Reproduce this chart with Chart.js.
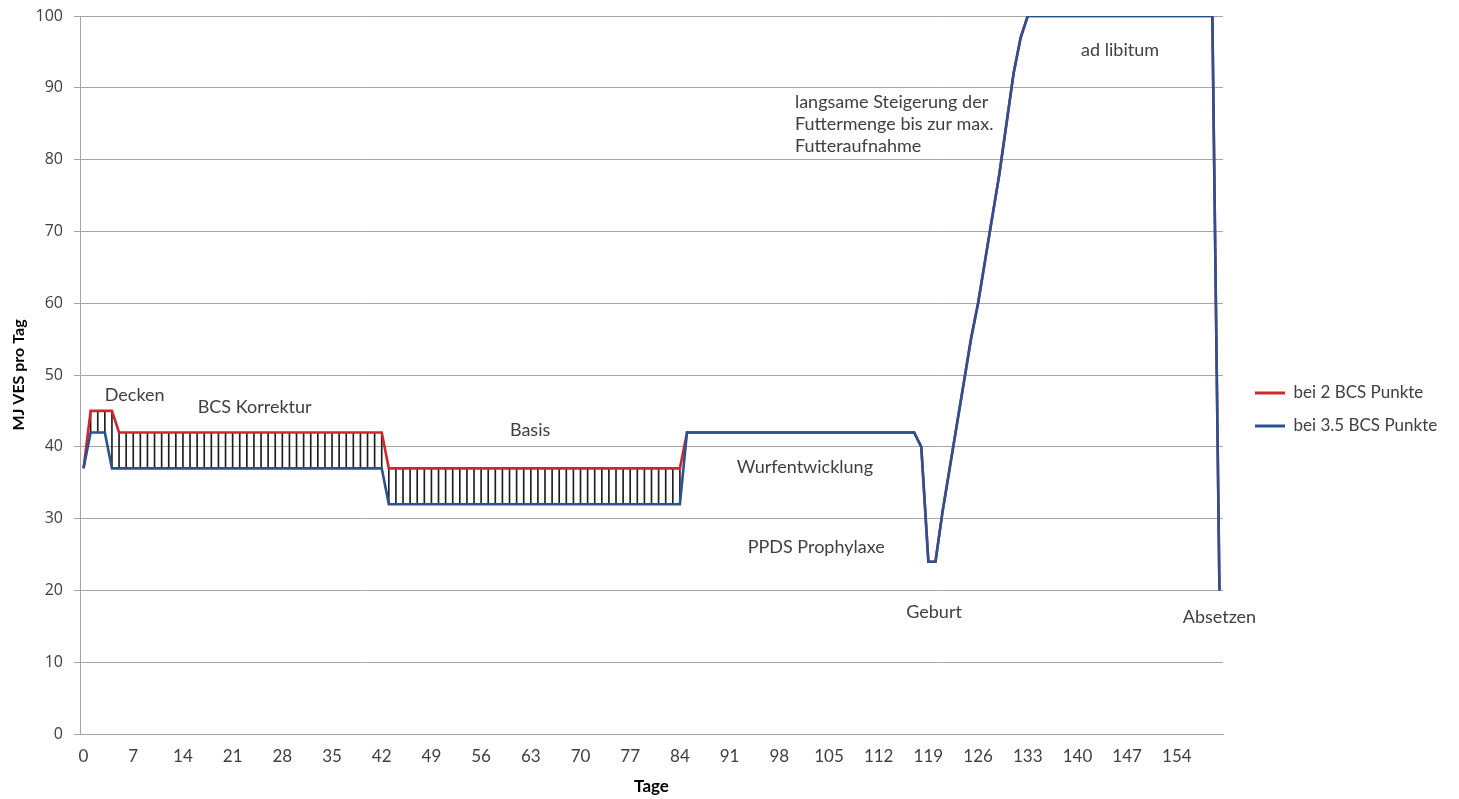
<!DOCTYPE html>
<html>
<head>
<meta charset="utf-8">
<script src="https://cdn.jsdelivr.net/npm/chart.js@4.4.1/dist/chart.umd.min.js"></script>
<style>
html,body{margin:0;padding:0;background:#fff;}
#wrap{width:1459px;height:799px;position:relative;}
</style>
</head>
<body>
<div id="wrap"><canvas id="c" width="1459" height="799"></canvas></div>
<script>
// ---- data ----
const days = [
  0,1,2,3,4,5,6,7,8,9,10,11,12,13,14,15,16,17,18,19,
  20,21,22,23,24,25,26,27,28,29,30,31,32,33,34,35,36,37,38,39,
  40,41,42,43,44,45,46,47,48,49,50,51,52,53,54,55,56,57,58,59,
  60,61,62,63,64,65,66,67,68,69,70,71,72,73,74,75,76,77,78,79,
  80,81,82,83,84,85,86,87,88,89,90,91,92,93,94,95,96,97,98,99,
  100,101,102,103,104,105,106,107,108,109,110,111,112,113,114,115,116,117,118,119,
  120,121,122,123,124,125,126,127,128,129,130,131,132,133,134,135,136,137,138,139,
  140,141,142,143,144,145,146,147,148,149,150,151,152,153,154,155,156,157,158,159,
  160
];
const tickLabels = ['0','7','14','21','28','35','42','49','56','63','70','77','84','91','98','105','112','119','126','133','140','147','154'];

const bcs2 = [
  37,45,45,45,45,42,42,42,42,42,
  42,42,42,42,42,42,42,42,42,42,
  42,42,42,42,42,42,42,42,42,42,
  42,42,42,42,42,42,42,42,42,42,
  42,42,42,37,37,37,37,37,37,37,
  37,37,37,37,37,37,37,37,37,37,
  37,37,37,37,37,37,37,37,37,37,
  37,37,37,37,37,37,37,37,37,37,
  37,37,37,37,37,42,42,42,42,42,
  42,42,42,42,42,42,42,42,42,42,
  42,42,42,42,42,42,42,42,42,42,
  42,42,42,42,42,42,42,42,40,24,
  24,31,37,43,49,55,60,66,72,78,
  85,92,97,100,100,100,100,100,100,100,
  100,100,100,100,100,100,100,100,100,100,
  100,100,100,100,100,100,100,100,100,100,
  20
];
const bcs35 = [
  37,42,42,42,37,37,37,37,37,37,
  37,37,37,37,37,37,37,37,37,37,
  37,37,37,37,37,37,37,37,37,37,
  37,37,37,37,37,37,37,37,37,37,
  37,37,37,32,32,32,32,32,32,32,
  32,32,32,32,32,32,32,32,32,32,
  32,32,32,32,32,32,32,32,32,32,
  32,32,32,32,32,32,32,32,32,32,
  32,32,32,32,32,42,42,42,42,42,
  42,42,42,42,42,42,42,42,42,42,
  42,42,42,42,42,42,42,42,42,42,
  42,42,42,42,42,42,42,42,40,24,
  24,31,37,43,49,55,60,66,72,78,
  85,92,97,100,100,100,100,100,100,100,
  100,100,100,100,100,100,100,100,100,100,
  100,100,100,100,100,100,100,100,100,100,
  20
];
const seriesNames = ['bei 2 BCS Punkte', 'bei 3.5 BCS Punkte'];
const phaseNotes = ['Decken','BCS Korrektur','Basis','Wurfentwicklung','PPDS Prophylaxe','Geburt','Absetzen','ad libitum'];
const rampNote = ['langsame Steigerung der','Futtermenge bis zur max.','Futteraufnahme'];

// ---- styling / placement (not data) ----
const FONT = 'Lato, "Open Sans", sans-serif';
const TEXT = '#404040';
const GRID = '#a6a6a6';
const notePlace = [
  {day:7.2, value:47.2},
  {day:24.1, value:45.5},
  {day:62.9, value:42.3},
  {day:101.6, value:37.2},
  {day:103.2, value:26.0},
  {day:119.8, value:16.9},
  {day:160.0, value:16.2},
  {day:146.0, value:95.3}
];
const rampPlace = {day:100.2, value:88.0, lineH:22};

// hatch (high-low lines) built from the two series
const hatch = bcs2.map((v,i) => v !== bcs35[i] ? [bcs35[i], v] : null);

const notesPlugin = {
  id:'notes',
  afterDatasetsDraw(chart){
    const {ctx, scales:{x,y}} = chart;
    ctx.save();
    ctx.fillStyle = TEXT;
    ctx.font = '18px ' + FONT;
    ctx.textBaseline = 'middle';
    ctx.textAlign = 'center';
    phaseNotes.forEach((t,i) => {
      ctx.fillText(t, x.getPixelForValue(notePlace[i].day), y.getPixelForValue(notePlace[i].value));
    });
    ctx.textAlign = 'left';
    const x0 = x.getPixelForValue(rampPlace.day), y0 = y.getPixelForValue(rampPlace.value);
    rampNote.forEach((t,i) => ctx.fillText(t, x0, y0 + i*rampPlace.lineH));
    ctx.restore();
  }
};

const legendPlugin = {
  id:'legendTweak',
  beforeInit(chart){
    const lg = chart.legend;
    const orig = lg.fit;
    lg.fit = function(){ orig.call(this); this.width = 236; };
  },
  afterLayout(chart){
    const lg = chart.legend;
    lg.left += 16; lg.right += 16;
    lg.top += 2; lg.bottom += 2;
  }
};

new Chart(document.getElementById('c'), {
  data: {
    labels: days,
    datasets: [
      {type:'line', label:seriesNames[0], data:bcs2, borderColor:'#d0262c', backgroundColor:'#d0262c',
       borderWidth:2.6, pointRadius:0, tension:0, order:1},
      {type:'line', label:seriesNames[1], data:bcs35, borderColor:'#2a5291', backgroundColor:'#2a5291',
       borderWidth:2.6, pointRadius:0, tension:0, order:0},
      {type:'bar', label:'hatch', data:hatch, backgroundColor:'#1e1e1e', barThickness:1, order:2}
    ]
  },
  options: {
    responsive:false,
    animation:false,
    layout:{padding:{top:16, left:0, right:0, bottom:0}},
    plugins:{
      tooltip:{enabled:false},
      legend:{
        position:'right',
        align:'center',
        labels:{
          boxWidth:30, boxHeight:3, padding:16, color:TEXT,
          font:{family:FONT, size:17},
          filter:(item) => item.datasetIndex < 2,
          sort:(a,b) => a.datasetIndex - b.datasetIndex,
          generateLabels(chart){
            const items = Chart.defaults.plugins.legend.labels.generateLabels(chart);
            items.forEach(it => { it.lineWidth = 0; });
            return items;
          }
        }
      }
    },
    scales:{
      x:{
        type:'category',
        offset:true,
        grid:{display:false, drawTicks:false},
        border:{display:true, color:GRID, width:1},
        ticks:{
          autoSkip:false, maxRotation:0, padding:12, color:TEXT,
          font:{family:FONT, size:17},
          callback(v, i){ const l = String(this.getLabelForValue(v)); return tickLabels.includes(l) ? l : ''; }
        },
        title:{display:true, text:'Tage', color:'#000', font:{family:FONT, size:17, weight:'bold'}, padding:{top:4, bottom:2}},
        afterFit(s){ s.height = 65; s.paddingLeft = 0; s.paddingRight = 0; }
      },
      y:{
        min:0, max:100,
        grid:{color:GRID, lineWidth:1, drawTicks:true, tickLength:6, tickColor:GRID},
        border:{display:true, color:GRID, width:1},
        ticks:{stepSize:10, padding:11, color:TEXT, font:{family:'"Open Sans", sans-serif', size:16}},
        title:{display:true, text:'MJ VES pro Tag', color:'#000', font:{family:FONT, size:16, weight:'bold'}, padding:{top:9, bottom:0}},
        afterFit(s){ s.width = 80; s.paddingTop = 0; s.paddingBottom = 0; }
      }
    }
  },
  plugins:[notesPlugin, legendPlugin]
});
</script>
</body>
</html>
